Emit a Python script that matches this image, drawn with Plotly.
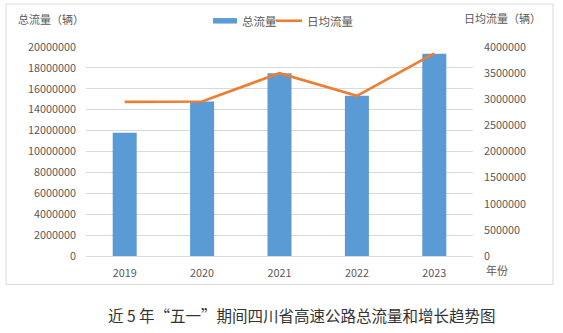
import plotly.graph_objects as go

years = ["2019", "2020", "2021", "2022", "2023"]
total_flow = [11800000, 14780000, 17500000, 15330000, 19350000]
daily_flow = [2950000, 2956000, 3500000, 3066000, 3880000]
left_ticks = list(range(0, 20000001, 2000000))
right_ticks = list(range(0, 4000001, 500000))

BLUE = "#5B9BD5"
ORANGE = "#ED7D31"
GRAY = "#595959"
FONT = "Noto Sans CJK SC"

fig = go.Figure()
fig.add_trace(go.Bar(x=years, y=total_flow, name="总流量", marker=dict(color=BLUE, line=dict(width=0)),
                     yaxis="y", showlegend=False))
fig.add_trace(go.Scatter(x=years, y=daily_flow, name="日均流量", mode="lines",
                         line=dict(color=ORANGE, width=2.6), yaxis="y2", showlegend=False))

# plot area: x 86..473, y 47..256.5
L, R, T, B = 86, 473, 47, 256.5
W, H = R - L, B - T
def px(x): return (x - L) / W
def py(y): return (B - y) / H

shapes = [
    dict(type="rect", xref="paper", yref="paper", x0=px(6), x1=px(553), y0=py(285), y1=py(4),
         line=dict(color="#D9D9D9", width=1), fillcolor="rgba(0,0,0,0)", layer="below"),
    dict(type="rect", xref="paper", yref="paper", x0=px(213), x1=px(237), y0=py(23.5), y1=py(18),
         line=dict(width=0), fillcolor=BLUE),
    dict(type="line", xref="paper", yref="paper", x0=px(276), x1=px(302), y0=py(20.7), y1=py(20.7),
         line=dict(color=ORANGE, width=2.6)),
]

annos = [
    dict(text="总流量", x=px(240), y=py(20.7), xanchor="left", yanchor="middle",
         font=dict(size=11.5, color=GRAY, family=FONT)),
    dict(text="日均流量", x=px(305), y=py(20.7), xanchor="left", yanchor="middle",
         font=dict(size=11.5, color=GRAY, family=FONT)),
    dict(text="总流量（辆）", x=px(16), y=py(19), xanchor="left", yanchor="middle",
         font=dict(size=11, color=GRAY, family=FONT)),
    dict(text="日均流量（辆）", x=px(543), y=py(18), xanchor="right", yanchor="middle",
         font=dict(size=11, color=GRAY, family=FONT)),
    dict(text="年份", x=px(484), y=py(271), xanchor="left", yanchor="middle",
         font=dict(size=11, color=GRAY, family=FONT)),
    dict(text="近 5 年“五一”期间四川省高速公路总流量和增长趋势图", x=px(302), y=py(316),
         xanchor="center", yanchor="middle",
         font=dict(size=15.5, color="#333333", family=FONT)),
]
for a in annos:
    a.update(xref="paper", yref="paper", showarrow=False)

fig.update_layout(
    width=563, height=333,
    margin=dict(l=L, r=563 - R, t=T, b=333 - B, pad=0),
    paper_bgcolor="white", plot_bgcolor="white",
    bargap=0.69,
    font=dict(family=FONT, color=GRAY, size=10.8),
    xaxis=dict(type="category", range=[-0.5, 4.5], showgrid=False, showline=True,
               linecolor="#D9D9D9", linewidth=1, ticks="", ticklabelstandoff=7,
               tickfont=dict(size=10.8, color=GRAY, family=FONT), fixedrange=True),
    yaxis=dict(range=[0, 20000000], tickvals=left_ticks, ticktext=[str(v) for v in left_ticks],
               showgrid=True, gridcolor="#D9D9D9", gridwidth=1, zeroline=False, showline=False,
               ticks="", ticklabelstandoff=9, tickfont=dict(size=10.8, color=GRAY, family=FONT)),
    yaxis2=dict(range=[0, 4000000], tickvals=right_ticks, ticktext=[str(v) for v in right_ticks],
                overlaying="y", side="right", showgrid=False, zeroline=False, showline=False,
                ticks="", ticklabelstandoff=10, tickfont=dict(size=10.8, color=GRAY, family=FONT)),
    shapes=shapes, annotations=annos,
)

fig.write_html("out.html")
